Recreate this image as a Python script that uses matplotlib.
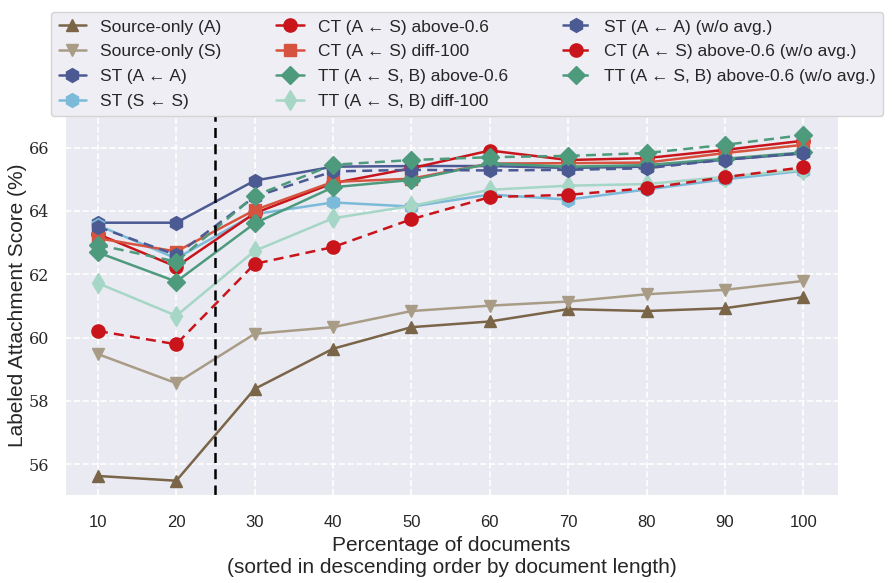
import matplotlib
matplotlib.use("Agg")
import matplotlib.pyplot as plt
import seaborn as sns

# percentage of documents
x = [10, 20, 30, 40, 50, 60, 70, 80, 90, 100]

src_a = [55.63, 55.48, 58.38, 59.65, 60.33, 60.51, 60.90, 60.84, 60.93, 61.28]
src_s = [59.48, 58.56, 60.12, 60.33, 60.84, 61.01, 61.14, 61.37, 61.51, 61.79]
st_aa = [63.63, 63.63, 64.96, 65.40, 65.42, 65.42, 65.36, 65.40, 65.62, 65.82]
st_ss = [63.55, 62.50, 63.90, 64.27, 64.14, 64.52, 64.36, 64.68, 65.00, 65.27]
ct_above = [63.27, 62.24, 63.93, 64.88, 65.35, 65.91, 65.61, 65.67, 65.93, 66.22]
ct_diff = [63.14, 62.72, 64.03, 64.92, 65.02, 65.50, 65.51, 65.53, 65.83, 66.09]
tt_above = [62.69, 61.77, 63.61, 64.75, 64.98, 65.50, 65.40, 65.45, 65.65, 65.85]
tt_diff = [61.72, 60.69, 62.74, 63.77, 64.16, 64.67, 64.80, 64.85, 65.08, 65.30]
st_aa_wo = [63.50, 62.61, 64.45, 65.25, 65.30, 65.28, 65.30, 65.35, 65.62, 65.83]
ct_above_wo = [60.21, 59.79, 62.33, 62.86, 63.74, 64.44, 64.51, 64.72, 65.07, 65.38]
tt_above_wo = [62.93, 62.40, 64.48, 65.46, 65.61, 65.70, 65.74, 65.83, 66.09, 66.40]

sns.set_style("darkgrid", {"grid.linestyle": "--"})
plt.rcParams['font.family'] = ['Liberation Sans', 'DejaVu Sans']

fig = plt.figure(figsize=(8.96, 5.83), dpi=100)
ax = fig.add_axes([0.0725, 0.151, 0.8627, 0.650])

series = [
    (src_a, "Source-only (A)", "#7a6548", "^", "-", 9),
    (src_s, "Source-only (S)", "#a99c87", "v", "-", 9),
    (st_aa, "ST (A \u2190 A)", "#4b5a92", "h", "-", 10),
    (st_ss, "ST (S \u2190 S)", "#7bbad8", "h", "-", 10),
    (ct_above, "CT (A \u2190 S) above-0.6", "#c8141a", "o", "-", 9.5),
    (ct_diff, "CT (A \u2190 S) diff-100", "#d6533f", "s", "-", 9),
    (tt_above, "TT (A \u2190 S, B) above-0.6", "#4e9a7d", "D", "-", 9),
    (tt_diff, "TT (A \u2190 S, B) diff-100", "#a6d6c5", "d", "-", 10),
    (st_aa_wo, "ST (A \u2190 A) (w/o avg.)", "#4b5a92", "h", "--", 10),
    (ct_above_wo, "CT (A \u2190 S) above-0.6 (w/o avg.)", "#c8141a", "o", "--", 9.5),
    (tt_above_wo, "TT (A \u2190 S, B) above-0.6 (w/o avg.)", "#4e9a7d", "D", "--", 9),
]

for vals, label, color, marker, ls, ms in series:
    ax.plot(x, vals, label=label, color=color, marker=marker, linestyle=ls,
            linewidth=1.8, markersize=ms, dashes=(4, 2.5) if ls == "--" else (None, None))

ax.axvline(25, color="black", linestyle="--", linewidth=1.8, dashes=(4, 2.5))

ax.set_xlim(5.8, 104.4)
ax.set_ylim(55.03, 67.0)
ax.set_xticks(x)
ax.set_yticks([56, 58, 60, 62, 64, 66])
ax.tick_params(axis="x", labelsize=12, pad=11)
ax.tick_params(axis="y", labelsize=11.5, pad=8)
for t in ax.get_yticklabels():
    t.set_family("DejaVu Serif")
ax.grid(True, color="white", linestyle="--", linewidth=1.2)

ax.set_xlabel("Percentage of documents\n(sorted in descending order by document length)",
              fontsize=15, labelpad=4, linespacing=1.2)
ax.set_ylabel("Labeled Attachment Score (%)", fontsize=15)
ax.yaxis.set_label_coords(-0.049, 0.5)

fig.legend(loc="upper left", bbox_to_anchor=(0.047, 0.799, 0.9485, 0.196),
           mode="expand", ncol=3, fontsize=12.5, labelspacing=0.55,
           handlelength=1.6, borderpad=0.45, frameon=True,
           facecolor="#eaeaf2", edgecolor="#cccccc", framealpha=0.8)

fig.savefig("out.png", dpi=100)
